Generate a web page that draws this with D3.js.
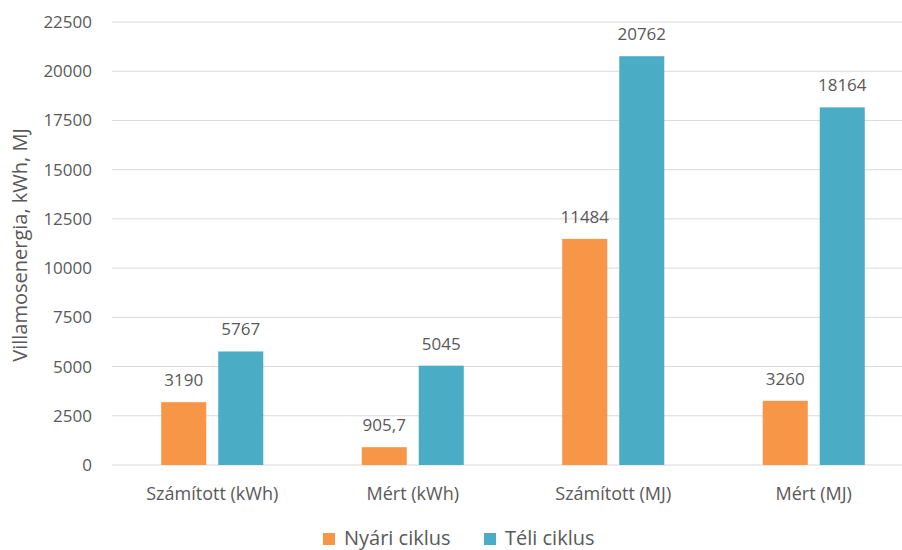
<!DOCTYPE html>
<html>
<head>
<meta charset="utf-8">
<script src="https://cdn.jsdelivr.net/npm/d3@7"></script>
<style>
  body { margin: 0; background: #fff; }
  text { font-family: "Open Sans", sans-serif; fill: #595959; }
</style>
</head>
<body>
<div id="chart"></div>
<script>
const categories = ["Számított (kWh)", "Mért (kWh)", "Számított (MJ)", "Mért (MJ)"];
const seriesNames = ["Nyári ciklus", "Téli ciklus"];
const nyari = [3190, 905.7, 11484, 3260];
const teli = [5767, 5045, 20762, 18164];
const nyariLabels = ["3190", "905,7", "11484", "3260"];
const teliLabels = ["5767", "5045", "20762", "18164"];
const yTicks = [0, 2500, 5000, 7500, 10000, 12500, 15000, 17500, 20000, 22500];
const colors = ["#F79646", "#4BACC6"];

const W = 902, H = 550;
const margin = {top: 22, left: 112, bottom: 85};
const plotRight = 914;

const svg = d3.select("#chart").append("svg")
    .attr("width", W)
    .attr("height", H);

const y = d3.scaleLinear()
    .domain([0, 22500])
    .range([H - margin.bottom, margin.top]);

const x0 = d3.scaleBand()
    .domain(categories)
    .range([margin.left, plotRight])
    .paddingInner(0.491)
    .paddingOuter(0.2455);

const x1 = d3.scaleBand()
    .domain(seriesNames)
    .range([0, x0.bandwidth()])
    .paddingInner(0.21);

// gridlines
svg.append("g")
    .selectAll("line")
    .data(yTicks)
    .join("line")
    .attr("x1", margin.left)
    .attr("x2", W)
    .attr("y1", d => y(d))
    .attr("y2", d => y(d))
    .attr("stroke", "#d9d9d9")
    .attr("stroke-width", 1);

// y tick labels
svg.append("g")
    .selectAll("text")
    .data(yTicks)
    .join("text")
    .attr("x", 92)
    .attr("y", d => y(d))
    .attr("dy", "0.35em")
    .attr("text-anchor", "end")
    .style("font-size", "17px")
    .text(d => d);

const rows = categories.map((c, i) => ({
    cat: c,
    vals: [
        {s: seriesNames[0], v: nyari[i], label: nyariLabels[i]},
        {s: seriesNames[1], v: teli[i], label: teliLabels[i]}
    ]
}));

const groups = svg.append("g")
    .selectAll("g")
    .data(rows)
    .join("g")
    .attr("transform", d => `translate(${x0(d.cat)},0)`);

groups.selectAll("rect")
    .data(d => d.vals)
    .join("rect")
    .attr("x", d => x1(d.s))
    .attr("y", d => y(d.v))
    .attr("width", x1.bandwidth())
    .attr("height", d => y(0) - y(d.v))
    .attr("fill", (d, i) => colors[i]);

groups.selectAll("text")
    .data(d => d.vals)
    .join("text")
    .attr("x", d => x1(d.s) + x1.bandwidth() / 2)
    .attr("y", d => y(d.v) - 16)
    .attr("text-anchor", "middle")
    .style("font-size", "17px")
    .text(d => d.label);

// category labels
svg.append("g")
    .selectAll("text")
    .data(categories)
    .join("text")
    .attr("x", d => x0(d) + x0.bandwidth() / 2)
    .attr("y", 500)
    .attr("text-anchor", "middle")
    .style("font-size", "18px")
    .text(d => d);

// y axis title
svg.append("text")
    .attr("transform", "rotate(-90)")
    .attr("x", -245)
    .attr("y", 27)
    .attr("text-anchor", "middle")
    .style("font-size", "20px")
    .text("Villamosenergia, kWh, MJ");

// legend
const legend = svg.append("g");
const legendX = [323, 484];
seriesNames.forEach((n, i) => {
    const g = legend.append("g")
        .attr("transform", `translate(${legendX[i]}, 533)`);
    g.append("rect")
        .attr("width", 12)
        .attr("height", 12)
        .attr("fill", colors[i]);
    g.append("text")
        .attr("x", 21)
        .attr("y", 12)
        .style("font-size", "20px")
        .text(n);
});
</script>
</body>
</html>
